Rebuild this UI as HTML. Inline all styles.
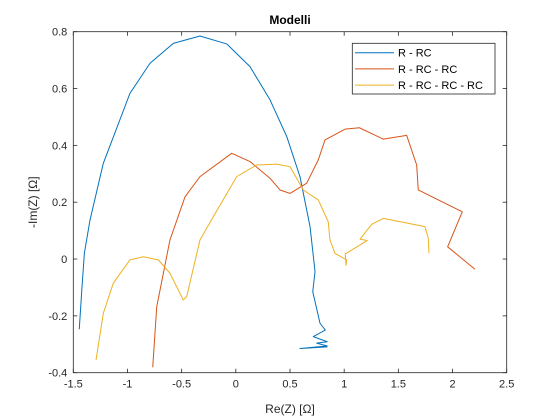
<!DOCTYPE html>
<html><head><meta charset="utf-8"><style>
body{margin:0;background:#fff}
svg{display:block;font-family:"Liberation Sans",Arial,sans-serif}
</style></head><body>
<svg id="chart" width="560" height="420"></svg>
<script>
const xTicks=[-1.5,-1,-0.5,0,0.5,1,1.5,2,2.5];
const yTicks=[-0.4,-0.2,0,0.2,0.4,0.6,0.8];
const seriesNames=["R - RC","R - RC - RC","R - RC - RC - RC"];
const blueX=[-1.445,-1.420,-1.398,-1.346,-1.223,-0.977,-0.792,-0.577,-0.331,-0.084,0.131,0.316,0.470,0.592,0.685,0.731,0.710,0.777,0.826,0.715,0.844,0.746,0.844,0.592,0.844];
const blueY=[-0.247,-0.100,0.020,0.137,0.337,0.583,0.689,0.759,0.785,0.757,0.677,0.560,0.431,0.290,0.114,-0.044,-0.115,-0.226,-0.250,-0.273,-0.291,-0.296,-0.306,-0.315,-0.309];
const redX=[-0.767,-0.730,-0.608,-0.469,-0.331,-0.038,0.131,0.316,0.408,0.500,0.654,0.761,0.823,1.008,1.140,1.361,1.577,1.669,1.684,2.090,1.955,2.207];
const redY=[-0.381,-0.168,0.067,0.219,0.290,0.372,0.343,0.284,0.243,0.231,0.267,0.349,0.419,0.457,0.462,0.422,0.435,0.331,0.243,0.166,0.043,-0.036];
const yelX=[-1.29,-1.223,-1.131,-0.977,-0.854,-0.715,-0.608,-0.485,-0.453,-0.331,-0.208,0.008,0.193,0.377,0.500,0.623,0.761,0.853,0.869,0.915,1.023,1.017,1.010,1.213,1.146,1.254,1.361,1.746,1.776,1.783];
const yelY=[-0.355,-0.191,-0.085,-0.003,0.008,-0.003,-0.050,-0.144,-0.132,0.067,0.149,0.290,0.331,0.334,0.325,0.243,0.208,0.131,0.067,0.020,-0.003,-0.022,0.018,0.065,0.070,0.122,0.143,0.114,0.073,0.020];
const colors=["#0072BD","#D95319","#EDB120"];

const L=73.3,T=31.7,W=433.4,H=341;
const sx=v=>L+(v+1.5)/4*W, sy=v=>T+(0.8-v)/1.2*H;
const svg=document.getElementById('chart'),NS="http://www.w3.org/2000/svg";
function mk(tag,attrs,parent){const e=document.createElementNS(NS,tag);for(const k in attrs)e.setAttribute(k,attrs[k]);(parent||svg).appendChild(e);return e;}

const ax=mk('rect',{x:L,y:T,width:W,height:H,fill:'#fff',stroke:'none'});



xTicks.forEach(t=>{const x=sx(t);
 mk('line',{x1:x,x2:x,y1:T+H,y2:T+H-4,stroke:'#262626','stroke-width':0.8});
 mk('line',{x1:x,x2:x,y1:T,y2:T+4,stroke:'#262626','stroke-width':0.8});
 const tx=mk('text',{x:x,y:T+H+15,'text-anchor':'middle','font-size':11,fill:'#262626'});tx.textContent=t;
 
 
});
yTicks.forEach(t=>{const y=sy(t);
 mk('line',{x1:L,x2:L+4,y1:y,y2:y,stroke:'#262626','stroke-width':0.8});
 mk('line',{x1:L+W,x2:L+W-4,y1:y,y2:y,stroke:'#262626','stroke-width':0.8});
 const tx=mk('text',{x:L-6,y:y+4,'text-anchor':'end','font-size':11,fill:'#262626'});tx.textContent=t;
 
 
});
const box=mk('rect',{x:L,y:T,width:W,height:H,fill:'none',stroke:'#262626','stroke-width':0.8});



[[blueX,blueY],[redX,redY],[yelX,yelY]].forEach((s,i)=>{
 const p=mk('polyline',{points:s[0].map((x,j)=>sx(x)+','+sy(s[1][j])).join(' '),fill:'none',stroke:colors[i],'stroke-width':1,'stroke-linejoin':'round'});
 
 
});

const title=mk('text',{x:L+W/2,y:24,'text-anchor':'middle','font-size':12,'font-weight':'bold',fill:'#000'});title.textContent='Modelli';


const xl=mk('text',{x:L+W/2,y:413,'text-anchor':'middle','font-size':12,fill:'#262626'});xl.textContent='Re(Z) [Ω]';


const yl=mk('text',{x:0,y:0,'text-anchor':'middle','font-size':12,fill:'#262626',transform:'translate(37,'+(T+H/2)+') rotate(-90)'});yl.textContent='-Im(Z) [Ω]';



const lg=mk('g',{});


mk('rect',{x:352.3,y:43.3,width:142.7,height:50.7,fill:'#fff',stroke:'#262626','stroke-width':0.8},lg);
seriesNames.forEach((n,i)=>{const y=52.7+i*16.2;
 const g=mk('g',{},lg);
 
 
 mk('line',{x1:355,x2:394,y1:y,y2:y,stroke:colors[i],'stroke-width':1},g);
 const t=mk('text',{x:398,y:y+4,'font-size':11,fill:'#000'},g);t.textContent=n;
});
</script>
</body></html>
